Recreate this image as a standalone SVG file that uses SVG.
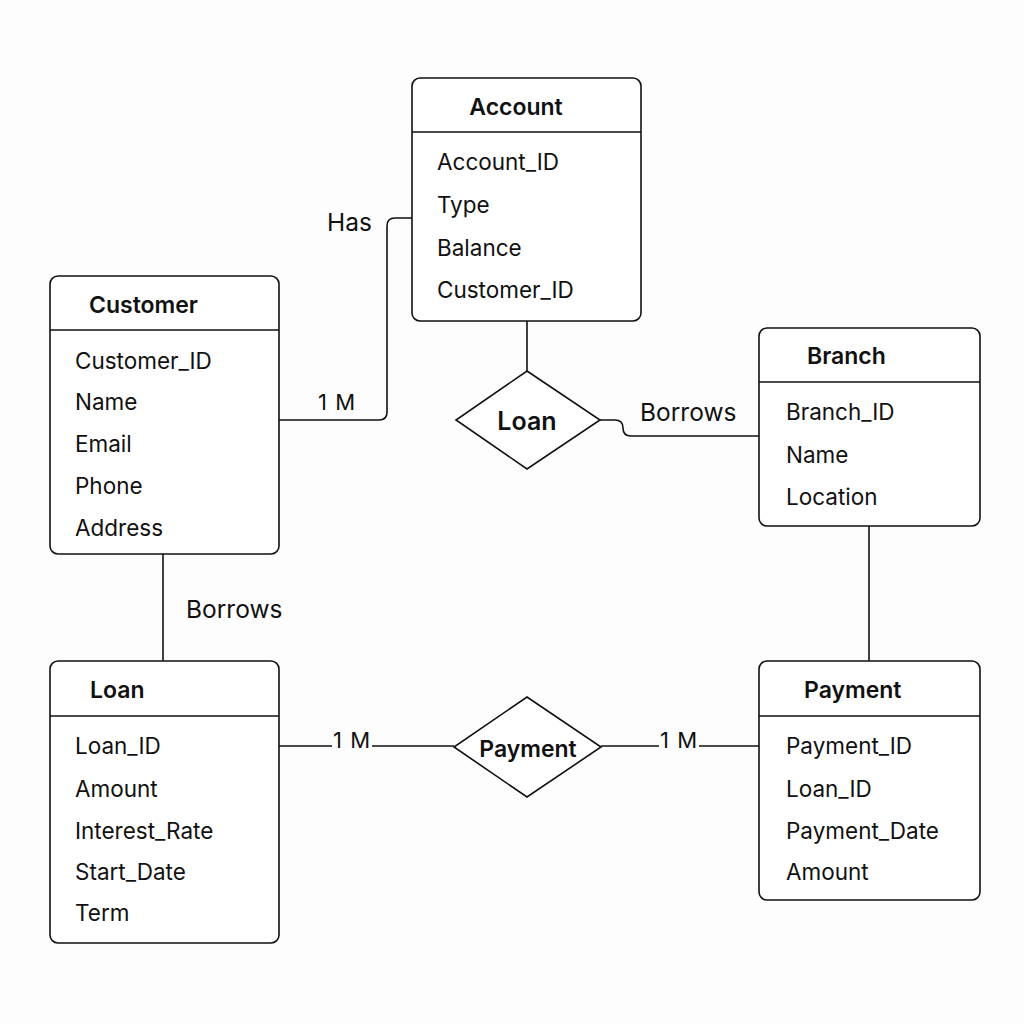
<svg xmlns="http://www.w3.org/2000/svg" width="1024" height="1024" viewBox="0 0 1024 1024">
<style>
.box{fill:#fff;stroke:#111;stroke-width:1.6}
.ln{fill:none;stroke:#111;stroke-width:1.6}
.t{font-family:Inter,"Liberation Sans",sans-serif;font-size:23px;font-weight:600;fill:#111}
.a{font-family:Inter,"Liberation Sans",sans-serif;font-size:22.5px;fill:#111}
.l{font-family:Inter,"Liberation Sans",sans-serif;font-size:24.5px;fill:#111}
.c{font-family:Inter,"Liberation Sans",sans-serif;font-size:22px;word-spacing:2px;fill:#111}
</style>
<rect width="1024" height="1024" fill="#fdfdfd"/>
<g id="connectors">
<path class="ln" d="M279 420 H379 Q387 420 387 412 V226 Q387 218 395 218 H412"/>
<path class="ln" d="M527 321 V371"/>
<path class="ln" d="M600 420 H615 Q623 420 623 428 Q623 436 631 436 H759"/>
<path class="ln" d="M163 554 V661"/>
<path class="ln" d="M869 526 V661"/>
<path class="ln" d="M279 746 H332 M372 746 H454"/>
<path class="ln" d="M601 746 H659 M699 746 H759"/>
<text class="c" x="318" y="410">1 M</text>
<text class="l" x="327" y="231">Has</text>
<text class="l" x="640" y="421">Borrows</text>
<text class="l" x="186" y="618">Borrows</text>
<text class="c" x="333" y="748">1 M</text>
<text class="c" x="660" y="748">1 M</text>
</g>
<g id="account">
<rect class="box" x="412" y="78" width="229" height="243" rx="8"/>
<line class="ln" x1="412" y1="132" x2="641" y2="132"/>
<text class="t" x="516" y="115" text-anchor="middle">Account</text>
<text class="a" x="437" y="170">Account_ID</text>
<text class="a" x="437" y="213">Type</text>
<text class="a" x="437" y="256">Balance</text>
<text class="a" x="437" y="298">Customer_ID</text>
</g>
<g id="customer">
<rect class="box" x="50" y="276" width="229" height="278" rx="8"/>
<line class="ln" x1="50" y1="330" x2="279" y2="330"/>
<text class="t" x="89" y="313">Customer</text>
<text class="a" x="75" y="369">Customer_ID</text>
<text class="a" x="75" y="410">Name</text>
<text class="a" x="75" y="452">Email</text>
<text class="a" x="75" y="494">Phone</text>
<text class="a" x="75" y="536">Address</text>
</g>
<g id="branch">
<rect class="box" x="759" y="328" width="221" height="198" rx="8"/>
<line class="ln" x1="759" y1="382" x2="980" y2="382"/>
<text class="t" x="807" y="364">Branch</text>
<text class="a" x="786" y="420">Branch_ID</text>
<text class="a" x="786" y="463">Name</text>
<text class="a" x="786" y="505">Location</text>
</g>
<g id="loan-rel">
<polygon class="box" points="527,371 600,420 527,469 456,420"/>
<text class="t" x="527" y="430" text-anchor="middle" style="font-size:25px">Loan</text>
</g>
<g id="loan">
<rect class="box" x="50" y="661" width="229" height="282" rx="8"/>
<line class="ln" x1="50" y1="716" x2="279" y2="716"/>
<text class="t" x="90" y="698">Loan</text>
<text class="a" x="75" y="754">Loan_ID</text>
<text class="a" x="75" y="797">Amount</text>
<text class="a" x="75" y="839">Interest_Rate</text>
<text class="a" x="75" y="880">Start_Date</text>
<text class="a" x="75" y="921">Term</text>
</g>
<g id="payment-rel">
<polygon class="box" points="527,697 601,747 527,797 454,747"/>
<text class="t" x="528" y="757" text-anchor="middle">Payment</text>
</g>
<g id="payment">
<rect class="box" x="759" y="661" width="221" height="239" rx="8"/>
<line class="ln" x1="759" y1="716" x2="980" y2="716"/>
<text class="t" x="804" y="698">Payment</text>
<text class="a" x="786" y="754">Payment_ID</text>
<text class="a" x="786" y="797">Loan_ID</text>
<text class="a" x="786" y="839">Payment_Date</text>
<text class="a" x="786" y="880">Amount</text>
</g>
</svg>
